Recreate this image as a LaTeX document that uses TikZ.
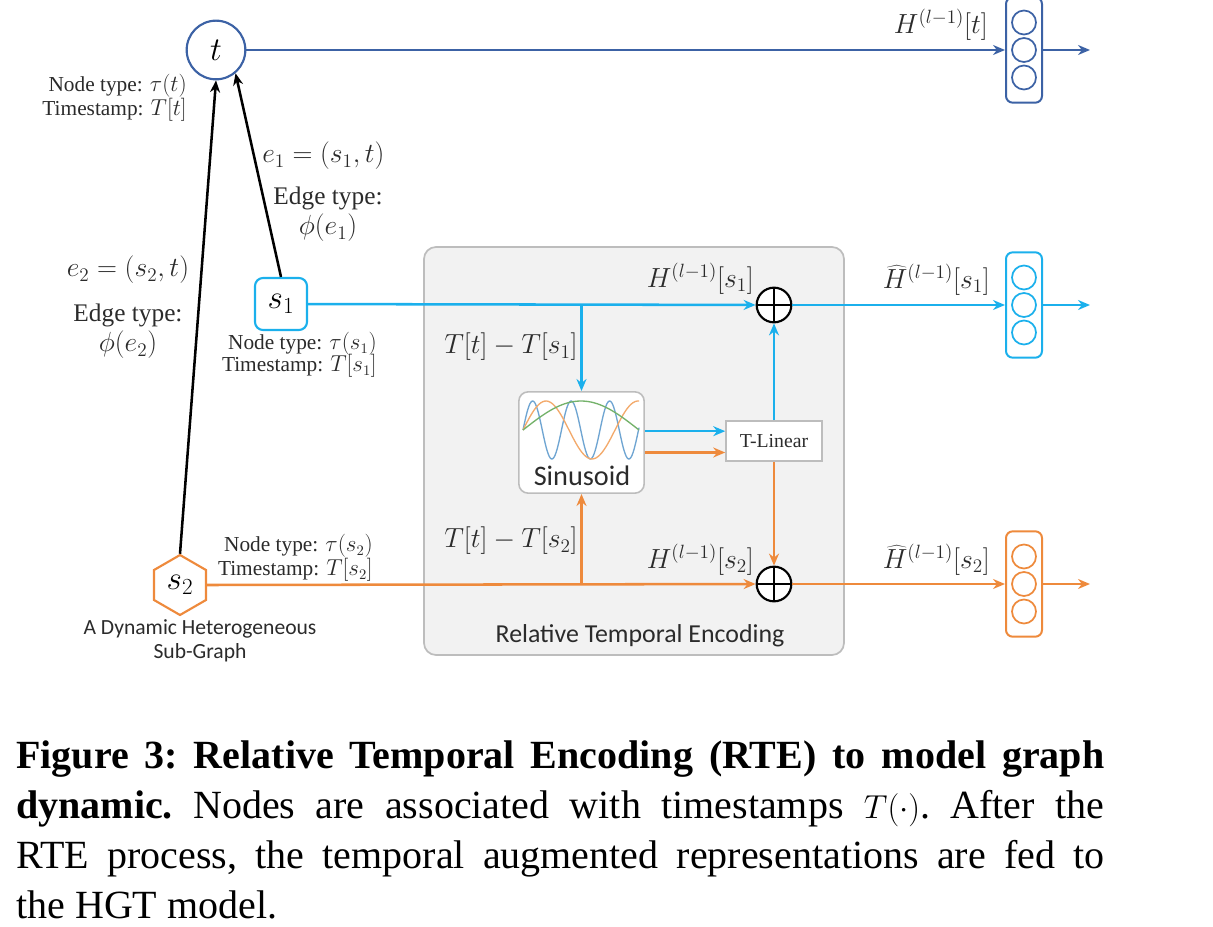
\documentclass[tikz,border=0pt]{standalone}
\usepackage{fontspec}
\setmainfont{Liberation Serif}
\newfontfamily\calfont{Carlito}
\usepackage{tikz}
\usetikzlibrary{shapes.geometric,arrows.meta,positioning}
\definecolor{tblue}{HTML}{3C62A5}
\definecolor{sone}{HTML}{1BB0EC}
\definecolor{stwo}{HTML}{EE8A3C}
\definecolor{panelgray}{HTML}{F2F2F2}
\definecolor{panelline}{HTML}{BDBDBD}
\definecolor{wavea}{HTML}{6FA5D2}
\definecolor{waveb}{HTML}{F3AA6C}
\definecolor{wavec}{HTML}{74B26A}
\definecolor{inkgray}{HTML}{2B2B2B}
\tikzset{
  arr/.style={-{Stealth[length=9pt,width=7.5pt]},line width=1.9pt,#1},
  arr/.default={black},
  lbl/.style={font=\fontsize{16}{18}\selectfont,text=inkgray,inner sep=0pt},
  mlbl/.style={font=\fontsize{19}{21}\selectfont,text=inkgray,inner sep=0pt},
  elbl/.style={font=\fontsize{20}{22}\selectfont,text=inkgray,inner sep=0pt},
  hlbl/.style={font=\fontsize{22.5}{24}\selectfont,text=inkgray,inner sep=0pt},
  callbl/.style={font=\fontsize{16.2}{18}\selectfont\calfont,text=inkgray,inner sep=0pt,align=center},
  vecbox/.style={rectangle,rounded corners=5pt,draw=#1,fill=white,line width=1.5pt,
    minimum width=27pt,minimum height=79pt,inner sep=0pt},
  vecdot/.style={circle,draw=#1,line width=1.3pt,minimum size=18pt,inner sep=0pt},
  addnode/.style={circle,draw=black,fill=white,line width=1.6pt,minimum size=26pt,inner sep=0pt,
    path picture={
      \draw[line width=1.6pt] (path picture bounding box.north) -- (path picture bounding box.south);
      \draw[line width=1.6pt] (path picture bounding box.west) -- (path picture bounding box.east);}},
}
\begin{document}
\begin{tikzpicture}[x=0.75pt,y=-0.75pt]
  \useasboundingbox (0,0) rectangle (1213,927);

  % gray panel first, everything else sits on it
  \node[rectangle,rounded corners=9pt,draw=panelline,fill=panelgray,line width=1.3pt,
    minimum width=315pt,minimum height=306pt] (panel) at (634,451) {};
  \node[callbl,font=\fontsize{19.4}{20}\selectfont\calfont] (paneltitle) at (640,636) {Relative Temporal Encoding};

  % graph nodes
  \node[circle,draw=tblue,fill=white,line width=1.6pt,minimum size=44pt,inner sep=0pt,
    font=\fontsize{30}{30}\selectfont] (t) at (216,50) {$t$};
  \node[rectangle,rounded corners=6pt,draw=sone,fill=white,line width=1.6pt,minimum size=39pt,
    inner sep=0pt,font=\fontsize{23.5}{24}\selectfont] (s1) at (281,304) {$s_1$};
  \node[regular polygon,regular polygon sides=6,shape border rotate=30,draw=stwo,fill=white,
    line width=1.6pt,minimum size=45pt,inner sep=0pt,font=\fontsize{23.5}{24}\selectfont] (s2) at (180,585) {$s_2$};

  % sinusoid and T-Linear
  \node[rectangle,rounded corners=7pt,draw=panelline,fill=white,line width=1.2pt,
    minimum width=94pt,minimum height=76pt] (sinus) at (581.5,442.5) {};
  \node[callbl,font=\fontsize{21.2}{22}\selectfont\calfont] (sinustext) at (582,476) {Sinusoid};
  \draw[wavea,line width=1pt,domain=0:116,samples=120,smooth]
    plot ({523+\x},{430-29*sin(\x/38.5*360)});
  \draw[waveb,line width=1pt,domain=0:116,samples=60,smooth]
    plot ({523+\x},{430-29*sin(\x/92*360)});
  \draw[wavec,line width=1pt,domain=0:116,samples=40,smooth]
    plot ({523+\x},{430-29*sin(\x/116*180)});
  \node[rectangle,draw=panelline,fill=white,line width=1.2pt,minimum width=72pt,minimum height=30pt,
    inner sep=0pt,font=\fontsize{14.8}{16}\selectfont,text=inkgray] (tlin) at (774,441) {T-Linear};

  % add nodes and representation stacks
  \node[addnode] (addone) at (774,305) {};
  \node[addnode] (addtwo) at (774,584) {};
  \foreach \nm/\col/\yy in {vect/tblue/50,vecone/sone/305,vectwo/stwo/584}{
    \node[vecbox=\col] (\nm) at (1024,\yy) {};
    \node[vecdot=\col] (\nm a) at (1024,\yy-27.5) {};
    \node[vecdot=\col] (\nm b) at (1024,\yy) {};
    \node[vecdot=\col] (\nm c) at (1024,\yy+27.5) {};
    \coordinate (\nm out) at (1090,\yy);
  }

  % edges to the target node
  \draw[arr] (s2.north) -- (t.south);
  \draw[arr] (s1.north) -- (t.-50);

  % blue row
  \draw[arr=tblue] (t) -- (vect);
  \draw[arr=tblue] (vect) -- (vectout);

  % cyan row
  \coordinate (jone) at (s1 -| sinus);
  \draw[arr=sone] (s1) -- (addone);
  \draw[arr=sone] (jone) -- (sinus);
  \draw[arr=sone] (addone) -- (vecone);
  \draw[arr=sone] (vecone) -- (veconeout);
  \draw[arr=sone] (tlin) -- (addone);

  % orange row
  \coordinate (jtwo) at (addtwo -| sinus);
  \draw[arr=stwo] (s2.east) -- (addtwo);
  \draw[arr=stwo] (jtwo) -- (sinus);
  \draw[arr=stwo] (addtwo) -- (vectwo);
  \draw[arr=stwo] (vectwo) -- (vectwoout);
  \draw[arr=stwo] (tlin) -- (addtwo);

  % sinusoid output pair
  \coordinate (sinone) at ([yshift=8.5pt]sinus.east);
  \coordinate (sintwo) at ([yshift=-7.5pt]sinus.east);
  \draw[arr=sone] (sinone) -- (sinone -| tlin.west);
  \draw[arr=stwo] (sintwo) -- (sintwo -| tlin.west);

  % labels round t
  \node[lbl,anchor=east] (ttype) at (187,86) {Node type: $\tau(t)$};
  \node[lbl,anchor=east] (tstamp) at (187,110) {Timestamp: $T[t]$};
  \node[elbl,anchor=west] (eone) at (262,156) {$e_1=(s_1,t)$};
  \node[mlbl] (eonetype) at (328,198) {Edge type:};
  \node[elbl] (eonephi) at (328,228) {$\phi(e_1)$};
  \node[elbl] (etwo) at (128,270) {$e_2=(s_2,t)$};
  \node[mlbl] (etwotype) at (128,315) {Edge type:};
  \node[elbl] (etwophi) at (128,345) {$\phi(e_2)$};

  % labels round s1 and s2
  \node[lbl,anchor=east] (sonetype) at (377,344) {Node type: $\tau(s_1)$};
  \node[lbl,anchor=east] (sonestamp) at (377,366) {Timestamp: $T[s_1]$};
  \node[lbl,anchor=east] (stwotype) at (373,546) {Node type: $\tau(s_2)$};
  \node[lbl,anchor=east] (stwostamp) at (373,570) {Timestamp: $T[s_2]$};
  \node[callbl] (subgraph) at (200,641) {A Dynamic Heterogeneous\\Sub-Graph};

  % labels on the wires
  \node[hlbl,anchor=east] (ht) at (988,25) {$H^{(l-1)}[t]$};
  \node[hlbl,anchor=east] (hone) at (754,279) {$H^{(l-1)}[s_1]$};
  \node[hlbl,anchor=east] (htwo) at (754,560) {$H^{(l-1)}[s_2]$};
  \node[hlbl,anchor=east] (hhatone) at (990,280) {$\widehat{H}^{(l-1)}[s_1]$};
  \node[hlbl,anchor=east] (hhattwo) at (990,560) {$\widehat{H}^{(l-1)}[s_2]$};
  \node[hlbl,anchor=west,font=\fontsize{22.3}{24}\selectfont] (dtone) at (444,347) {$T[t]-T[s_1]$};
  \node[hlbl,anchor=west,font=\fontsize{22.3}{24}\selectfont] (dttwo) at (444,541) {$T[t]-T[s_2]$};

  % caption under the figure
  \node[anchor=north west,inner sep=0pt,align=left,text=black,
    font=\fontsize{30}{37.5}\selectfont\frenchspacing] (capt) at (16,740) {%
    \makebox[816pt][s]{\bfseries Figure 3: Relative Temporal Encoding (RTE) to model graph}\\
    \makebox[816pt][s]{\textbf{dynamic.} Nodes are associated with timestamps $T(\cdot)$. After the}\\
    \makebox[816pt][s]{RTE process, the temporal augmented representations are fed to}\\
    the HGT model.};
\end{tikzpicture}
\end{document}
